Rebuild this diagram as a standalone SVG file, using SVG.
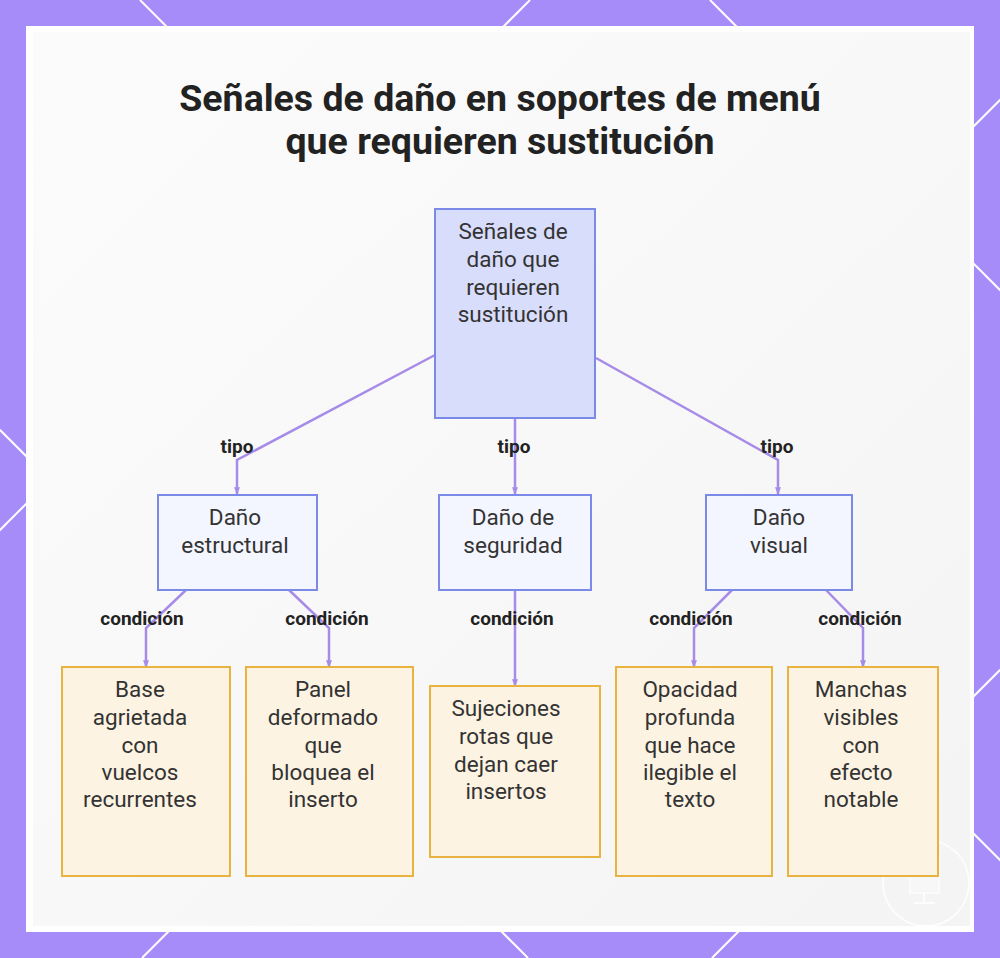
<svg xmlns="http://www.w3.org/2000/svg" width="1000" height="958" viewBox="0 0 1000 958">
<style>
.bg-line{stroke:#ffffff;stroke-width:2;fill:none}
.title{font-family:Roboto,"Liberation Sans",sans-serif;font-weight:bold;font-size:37.5px;fill:#222222;text-anchor:middle}
.nt{font-family:Roboto,"Liberation Sans",sans-serif;font-size:22.5px;fill:#333333;text-anchor:middle}
.lbl{font-family:Roboto,"Liberation Sans",sans-serif;font-weight:bold;font-size:19px;fill:#222222;text-anchor:middle}
.root{fill:#d9ddfc;stroke:#7b8ae6;stroke-width:2}
.mid{fill:#f4f6ff;stroke:#7b8ae6;stroke-width:2}
.leaf{fill:#fdf3e3;stroke:#e8b33e;stroke-width:2}
.edge{stroke:#a68be8;stroke-width:2.5;fill:none;marker-end:url(#arr)}
</style>
<defs>
<marker id="arr" viewBox="0 0 10 10" refX="9" refY="5" markerWidth="3" markerHeight="3" orient="auto">
<path d="M0,1 L10,5 L0,9 z" fill="#a68be8"/>
</marker>
<linearGradient id="pg" x1="0" y1="0" x2="1" y2="1">
<stop offset="0" stop-color="#fbfbfb"/>
<stop offset="0.5" stop-color="#f8f8f8"/>
<stop offset="1" stop-color="#f4f4f4"/>
</linearGradient>
</defs>
<g id="background">
<rect x="0" y="0" width="1000" height="958" fill="#a68cf8"/>
<line class="bg-line" x1="-430" y1="0" x2="528" y2="958"/>
<line class="bg-line" x1="140" y1="0" x2="1098" y2="958"/>
<line class="bg-line" x1="710" y1="0" x2="1668" y2="958"/>
<line class="bg-line" x1="530" y1="0" x2="-428" y2="958"/>
<line class="bg-line" x1="1100" y1="0" x2="142" y2="958"/>
<line class="bg-line" x1="1670" y1="0" x2="712" y2="958"/>
<rect x="26" y="26" width="948" height="906" fill="#ffffff"/>
<rect x="33" y="32" width="937" height="894" fill="url(#pg)"/>
<circle cx="926" cy="883" r="43" fill="none" stroke="#ffffff" stroke-width="1.5"/>
<rect x="910" y="855" width="29" height="38" fill="#f7f7f7" stroke="#ffffff" stroke-width="1"/>
<line x1="924" y1="893" x2="924" y2="902" stroke="#ffffff" stroke-width="1.5"/>
<line x1="914" y1="903" x2="935" y2="903" stroke="#ffffff" stroke-width="1.5"/>
</g>
<g id="title">
<text class="title" x="500" y="111">Señales de daño en soportes de menú</text>
<text class="title" x="500" y="154">que requieren sustitución</text>
</g>
<g id="connectors">
<polyline class="edge" points="435,355 237,460 237,494"/>
<polyline class="edge" points="515,418 515,494"/>
<polyline class="edge" points="596,358 778,460 778,494"/>
<polyline class="edge" points="186,590 146,628 146,667"/>
<polyline class="edge" points="289,590 329,628 329,667"/>
<polyline class="edge" points="515,590 515,686"/>
<polyline class="edge" points="732,590 694,628 694,667"/>
<polyline class="edge" points="826,590 863,628 863,667"/>
<text class="lbl" x="237" y="453">tipo</text>
<text class="lbl" x="514" y="453">tipo</text>
<text class="lbl" x="777" y="453">tipo</text>
<text class="lbl" x="142" y="625">condición</text>
<text class="lbl" x="327" y="625">condición</text>
<text class="lbl" x="512" y="625">condición</text>
<text class="lbl" x="691" y="625">condición</text>
<text class="lbl" x="860" y="625">condición</text>
</g>
<g id="root">
<rect class="root" x="435" y="209" width="160" height="209"/>
<text class="nt" x="513" y="239">Señales de</text>
<text class="nt" x="513" y="267">daño que</text>
<text class="nt" x="513" y="295">requieren</text>
<text class="nt" x="513" y="322">sustitución</text>
</g>
<g id="estructural">
<rect class="mid" x="158" y="495" width="159" height="95"/>
<text class="nt" x="235" y="525">Daño</text>
<text class="nt" x="235" y="553">estructural</text>
</g>
<g id="seguridad">
<rect class="mid" x="439" y="495" width="152" height="95"/>
<text class="nt" x="513" y="525">Daño de</text>
<text class="nt" x="513" y="553">seguridad</text>
</g>
<g id="visual">
<rect class="mid" x="706" y="495" width="146" height="95"/>
<text class="nt" x="779" y="525">Daño</text>
<text class="nt" x="779" y="553">visual</text>
</g>
<g id="base">
<rect class="leaf" x="62" y="667" width="168" height="209"/>
<text class="nt" x="140" y="697">Base</text>
<text class="nt" x="140" y="725">agrietada</text>
<text class="nt" x="140" y="753">con</text>
<text class="nt" x="140" y="780">vuelcos</text>
<text class="nt" x="140" y="807">recurrentes</text>
</g>
<g id="panel">
<rect class="leaf" x="246" y="667" width="167" height="209"/>
<text class="nt" x="323" y="697">Panel</text>
<text class="nt" x="323" y="725">deformado</text>
<text class="nt" x="323" y="753">que</text>
<text class="nt" x="323" y="780">bloquea el</text>
<text class="nt" x="323" y="807">inserto</text>
</g>
<g id="sujeciones">
<rect class="leaf" x="430" y="686" width="170" height="171"/>
<text class="nt" x="506" y="716">Sujeciones</text>
<text class="nt" x="506" y="744">rotas que</text>
<text class="nt" x="506" y="772">dejan caer</text>
<text class="nt" x="506" y="799">insertos</text>
</g>
<g id="opacidad">
<rect class="leaf" x="616" y="667" width="156" height="209"/>
<text class="nt" x="690" y="697">Opacidad</text>
<text class="nt" x="690" y="725">profunda</text>
<text class="nt" x="690" y="753">que hace</text>
<text class="nt" x="690" y="780">ilegible el</text>
<text class="nt" x="690" y="807">texto</text>
</g>
<g id="manchas">
<rect class="leaf" x="788" y="667" width="150" height="209"/>
<text class="nt" x="861" y="697">Manchas</text>
<text class="nt" x="861" y="725">visibles</text>
<text class="nt" x="861" y="753">con</text>
<text class="nt" x="861" y="780">efecto</text>
<text class="nt" x="861" y="807">notable</text>
</g>
</svg>
